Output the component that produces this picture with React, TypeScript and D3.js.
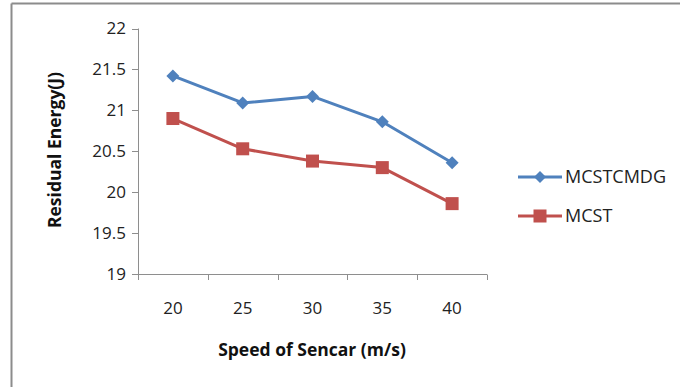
import React from "react";
import * as d3 from "d3";

const categories = ["20", "25", "30", "35", "40"];
const mcstcmdg = [21.42, 21.09, 21.17, 20.86, 20.36];
const mcst = [20.9, 20.53, 20.38, 20.3, 19.86];
const yTicks = [19, 19.5, 20, 20.5, 21, 21.5, 22];
const seriesNames = ["MCSTCMDG", "MCST"];

const W = 680;
const H = 387;
const FONT = "'Open Sans', 'Noto Sans', sans-serif";

export default function App() {
  const x = d3.scaleBand<string>().domain(categories).range([138, 487]);
  const y = d3.scaleLinear().domain([19, 22]).range([274, 28.5]);
  const line = d3
    .line<number>()
    .x((_, i) => (x(categories[i]) as number) + x.bandwidth() / 2)
    .y((d) => y(d));

  const blue = "#4F81BD";
  const red = "#C0504D";
  const axisColor = "#8E8E8E";

  const diamond = (cx: number, cy: number, r: number) =>
    `M${cx},${cy - r}L${cx + r},${cy}L${cx},${cy + r}L${cx - r},${cy}Z`;

  const xEdges = categories.map((c) => x(c) as number).concat([x.range()[1]]);

  return (
    <svg
      width={W}
      height={H}
      style={{ position: "absolute", left: 0, top: 0, background: "#fff" }}
    >
      <rect x={0} y={0} width={W} height={H} fill="#fff" />
      {/* frame (top and left visible) */}
      <line x1={11.5} y1={3.5} x2={W + 5} y2={3.5} stroke="#8C8C8C" strokeWidth={2} />
      <line x1={11.5} y1={3.5} x2={11.5} y2={H + 5} stroke="#8C8C8C" strokeWidth={2} />

      {/* y axis */}
      <line x1={138.5} y1={y(22)} x2={138.5} y2={y(19)} stroke={axisColor} strokeWidth={1} />
      {yTicks.map((t) => (
        <g key={t}>
          <line x1={132} x2={138.5} y1={Math.round(y(t)) + 0.5} y2={Math.round(y(t)) + 0.5} stroke={axisColor} />
          <text
            x={126}
            y={y(t)}
            dy="0.35em"
            textAnchor="end"
            fontFamily={FONT}
            fontSize={17}
            fill="#222"
          >
            {String(t)}
          </text>
        </g>
      ))}

      {/* x axis */}
      <line x1={138} x2={x.range()[1]} y1={274.5} y2={274.5} stroke={axisColor} />
      {xEdges.map((e, i) => (
        <line key={i} x1={Math.round(e) + 0.5} x2={Math.round(e) + 0.5} y1={274.5} y2={280} stroke={axisColor} />
      ))}
      {categories.map((c) => (
        <text
          key={c}
          x={(x(c) as number) + x.bandwidth() / 2}
          y={308}
          dy="0.35em"
          textAnchor="middle"
          fontFamily={FONT}
          fontSize={17}
          fill="#222"
        >
          {c}
        </text>
      ))}

      {/* axis titles */}
      <text
        x={312}
        y={350}
        dy="0.35em"
        textAnchor="middle"
        fontFamily={FONT}
        fontSize={17.5}
        fontWeight="bold"
        fill="#111"
      >
        Speed of Sencar (m/s)
      </text>
      <text
        transform={`translate(55,150) rotate(-90)`}
        dy="0.35em"
        textAnchor="middle"
        fontFamily={FONT}
        fontSize={17.5}
        fontWeight="bold"
        fill="#111"
      >
        Residual Energy(J)
      </text>

      {/* series */}
      <path d={line(mcstcmdg) || ""} fill="none" stroke={blue} strokeWidth={3} strokeLinejoin="round" />
      <path d={line(mcst) || ""} fill="none" stroke={red} strokeWidth={3} strokeLinejoin="round" />
      {mcstcmdg.map((v, i) => (
        <path
          key={"b" + i}
          d={diamond((x(categories[i]) as number) + x.bandwidth() / 2, y(v), 6.5)}
          fill={blue}
        />
      ))}
      {mcst.map((v, i) => (
        <rect
          key={"r" + i}
          x={(x(categories[i]) as number) + x.bandwidth() / 2 - 6.5}
          y={y(v) - 6.5}
          width={13}
          height={13}
          fill={red}
        />
      ))}

      {/* legend */}
      <g>
        <line x1={518} x2={562} y1={177} y2={177} stroke={blue} strokeWidth={3} />
        <path d={diamond(540, 177, 6)} fill={blue} />
        <text x={565} y={177} dy="0.35em" fontFamily={FONT} fontSize={18} fill="#222">
          {seriesNames[0]}
        </text>
        <line x1={518} x2={562} y1={216} y2={216} stroke={red} strokeWidth={3} />
        <rect x={533.5} y={209.5} width={13} height={13} fill={red} />
        <text x={565} y={216} dy="0.35em" fontFamily={FONT} fontSize={18} fill="#222">
          {seriesNames[1]}
        </text>
      </g>
    </svg>
  );
}
